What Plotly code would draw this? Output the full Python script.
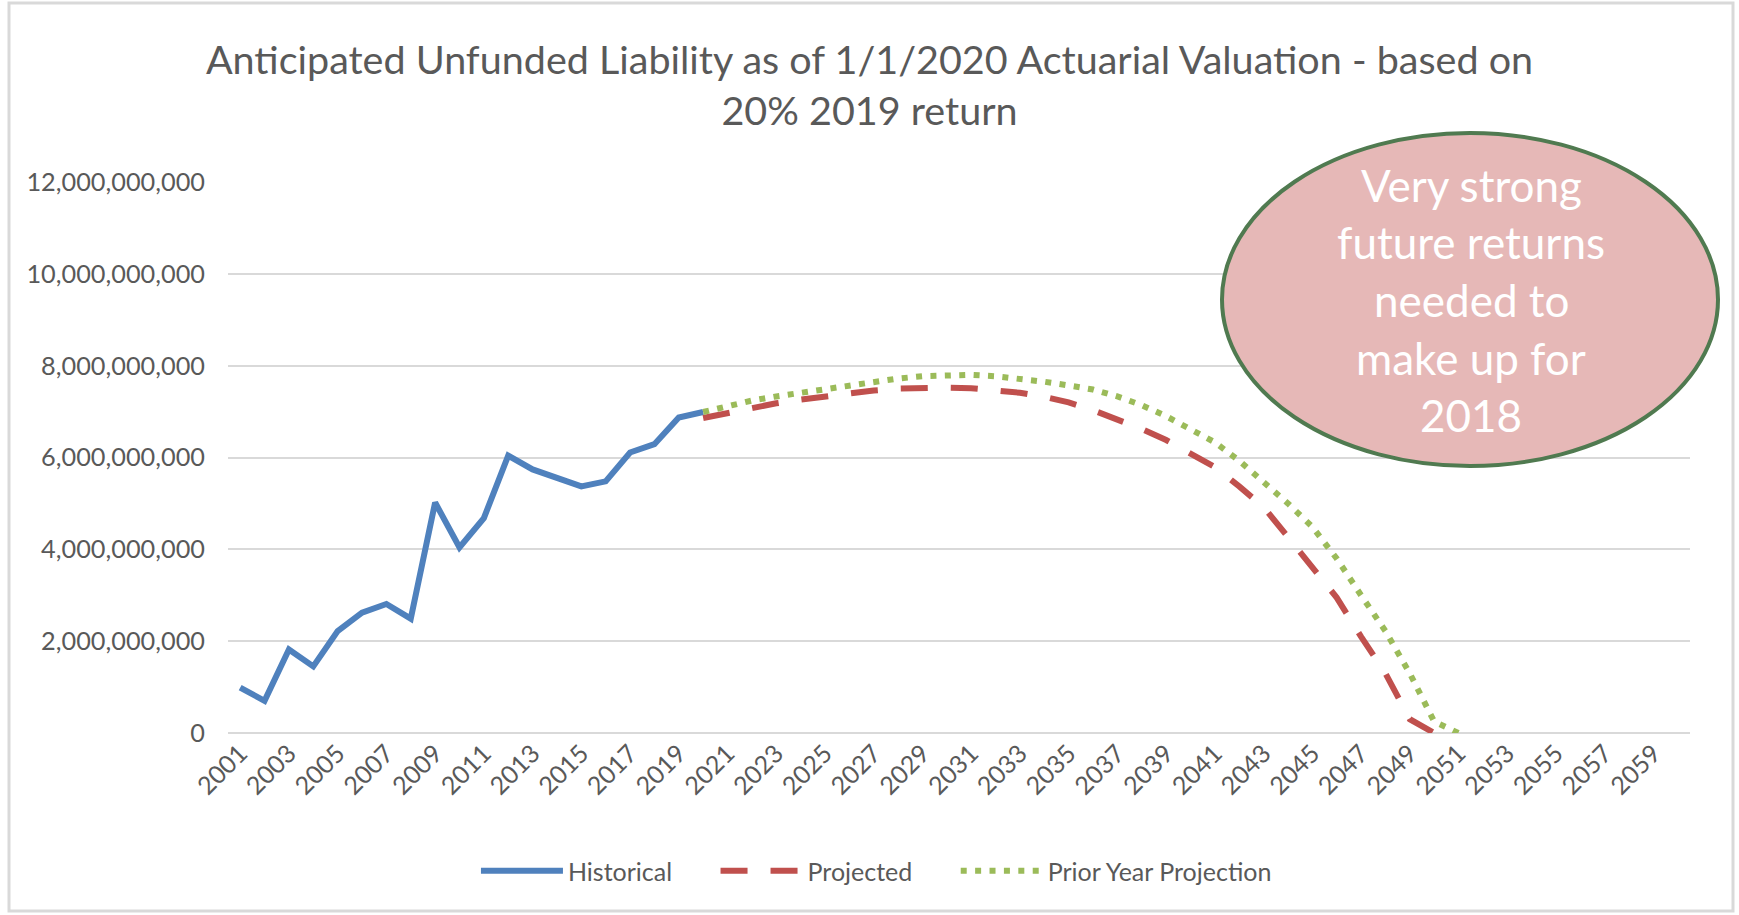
import plotly.graph_objects as go

# ---- data (values in dollars) ----
hist_years = list(range(2001, 2021))
hist_values = [0.99e9, 0.70e9, 1.82e9, 1.45e9, 2.22e9, 2.62e9, 2.81e9, 2.49e9, 5.02e9, 4.04e9,
               4.68e9, 6.04e9, 5.74e9, 5.55e9, 5.37e9, 5.48e9, 6.11e9, 6.29e9, 6.87e9, 6.99e9]

proj_years = list(range(2020, 2051))
proj_values = [6.86e9, 6.97e9, 7.08e9, 7.18e9, 7.26e9, 7.33e9, 7.40e9, 7.46e9, 7.50e9, 7.52e9,
               7.52e9, 7.51e9, 7.47e9, 7.41e9, 7.32e9, 7.20e9, 7.03e9, 6.84e9, 6.62e9, 6.38e9,
               6.10e9, 5.79e9, 5.37e9, 4.92e9, 4.27e9, 3.62e9, 2.95e9, 2.10e9, 1.30e9, 0.30e9,
               0.0]

prior_years = list(range(2020, 2052))
prior_values = [6.99e9, 7.13e9, 7.24e9, 7.33e9, 7.41e9, 7.50e9, 7.58e9, 7.66e9, 7.72e9, 7.77e9,
                7.80e9, 7.80e9, 7.77e9, 7.72e9, 7.65e9, 7.57e9, 7.48e9, 7.33e9, 7.14e9, 6.90e9,
                6.63e9, 6.33e9, 5.93e9, 5.47e9, 5.00e9, 4.49e9, 3.80e9, 3.00e9, 2.22e9, 1.30e9,
                0.25e9, 0.0]

x_tick_years = list(range(2001, 2060, 2))
x_tick_labels = [str(y) for y in x_tick_years]
y_tick_values = [0, 2e9, 4e9, 6e9, 8e9, 10e9, 12e9]
y_tick_labels = ["0", "2,000,000,000", "4,000,000,000", "6,000,000,000",
                 "8,000,000,000", "10,000,000,000", "12,000,000,000"]

series_names = ["Historical", "Projected", "Prior Year Projection"]
title_text = "Anticipated Unfunded Liability as of 1/1/2020 Actuarial Valuation - based on<br>20% 2019 return"
callout_lines = ["Very strong", "future returns", "needed to", "make up for", "2018"]

FONT = "Lato"
GRAY_TEXT = "#595959"
GRID = "#D9D9D9"
PAD = "&nbsp;" * 6  # spacing between legend entries

fig = go.Figure()
fig.add_trace(go.Scatter(x=hist_years, y=hist_values, mode="lines", name=series_names[0] + PAD,
                         line=dict(color="#4F81BD", width=6)))
fig.add_trace(go.Scatter(x=proj_years, y=proj_values, mode="lines", name=series_names[1] + PAD,
                         line=dict(color="#C0504D", width=6, dash="27px,23px")))
fig.add_trace(go.Scatter(x=prior_years, y=prior_values, mode="lines", name=series_names[2],
                         line=dict(color="#9BBB59", width=6, dash="6px,8.4px")))

W, H = 1739, 915
L, R, T, B = 228, 49, 182, 182
pw, ph = W - L - R, H - T - B

def px(x):
    return (x - L) / pw

def py(y):
    return (H - B - y) / ph

fig.update_layout(
    width=W, height=H,
    margin=dict(l=L, r=R, t=T, b=B, autoexpand=False),
    paper_bgcolor="white", plot_bgcolor="white",
    font=dict(family=FONT, color=GRAY_TEXT),
    title=dict(text=title_text, x=0.5, xanchor="center", xref="container",
               y=1 - 74 / H, yanchor="top", yref="container",
               font=dict(family=FONT, size=39.5, color=GRAY_TEXT)),
    showlegend=True,
    legend=dict(orientation="h", xref="container", yref="container",
                x=0.504, xanchor="center", y=1 - 871 / H, yanchor="middle",
                font=dict(family=FONT, size=25, color=GRAY_TEXT),
                itemwidth=82, bgcolor="rgba(0,0,0,0)"),
    hovermode=False,
)

fig.update_xaxes(range=[2000.5, 2060.5], tickmode="array", tickvals=x_tick_years,
                 ticktext=x_tick_labels, tickangle=-45, showgrid=False, zeroline=False,
                 showline=False, ticks="", tickfont=dict(family=FONT, size=25, color=GRAY_TEXT),
                 automargin=False, fixedrange=True)
fig.update_yaxes(range=[0, 12e9], tickmode="array", tickvals=y_tick_values,
                 ticktext=y_tick_labels, showgrid=True, gridcolor=GRID, gridwidth=2,
                 zeroline=True, zerolinecolor=GRID, zerolinewidth=2, showline=False, ticks="",
                 ticklabelstandoff=22, tickfont=dict(family=FONT, size=25.3, color=GRAY_TEXT),
                 automargin=False, fixedrange=True)

# chart-area frame
fig.add_shape(type="rect", xref="paper", yref="paper",
              x0=px(9), x1=px(1733), y0=py(911), y1=py(3),
              line=dict(color=GRID, width=3), fillcolor="rgba(0,0,0,0)", layer="below")

# callout ellipse
fig.add_shape(type="circle", xref="paper", yref="paper",
              x0=px(1222), x1=px(1718), y0=py(466), y1=py(133),
              line=dict(color="#507A50", width=4), fillcolor="#E6B8B7", layer="above")

line_centers = [185, 242, 300, 358, 415]
for txt, yc in zip(callout_lines, line_centers):
    fig.add_annotation(text=txt, xref="paper", yref="paper", x=px(1471), y=py(yc),
                       xanchor="center", yanchor="middle", showarrow=False,
                       font=dict(family=FONT, size=44, color="white"))

fig.write_html("out.html", config={"displayModeBar": False},
               post_script="document.body.style.margin='0px';")
